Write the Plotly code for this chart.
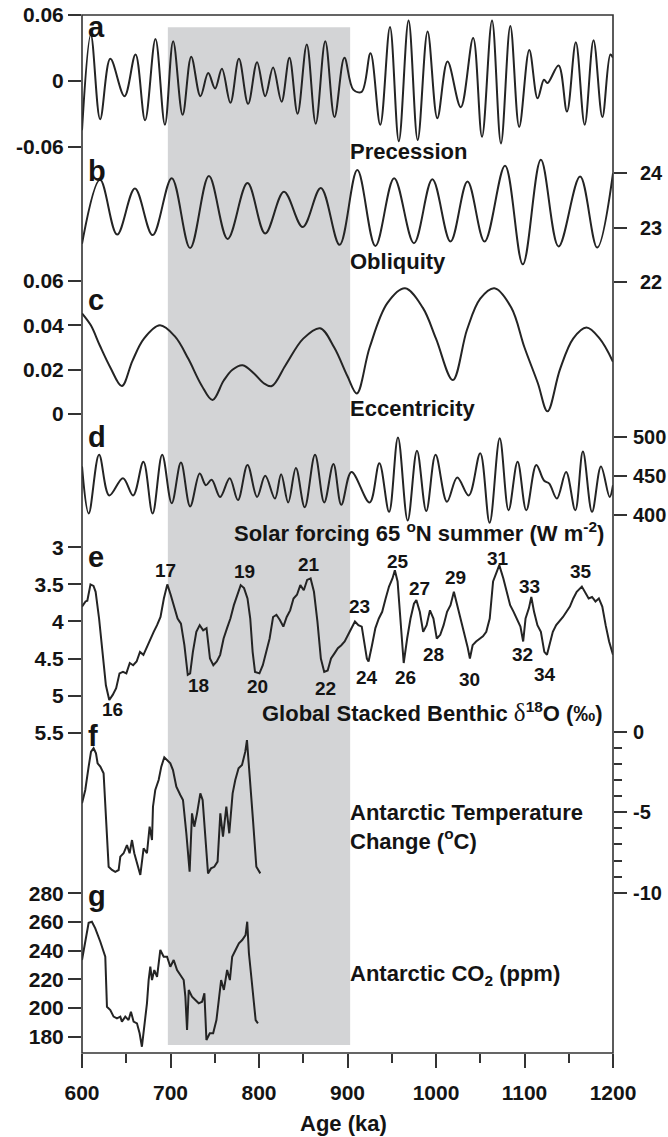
import plotly.graph_objects as go

# ---------------- series (age in ka) ----------------
prec_age = [600, 610, 620.5, 632, 648, 660.5, 671.3, 683, 693.7, 703, 713.7, 723.4, 733.8, 742.6,
            750.4, 758.1, 767.7, 777.3, 787.7, 797.8, 807, 815.9, 825.5, 834.4, 843.6, 854, 864.1,
            874.9, 885.3, 896.5, 906.5, 916, 926, 937, 948, 958, 969, 979.3, 990.5, 1001.5, 1013,
            1028, 1042, 1052, 1063.3, 1073.4, 1084, 1094, 1105.4, 1114.8, 1122, 1126, 1138.5,
            1148, 1158, 1168, 1178, 1188, 1197, 1200]
prec_val = [-0.045, 0.042, -0.035, 0.020, -0.014, 0.024, -0.036, 0.038, -0.040, 0.036, -0.031,
            0.022, -0.014, 0.007, -0.007, 0.011, -0.020, 0.020, -0.021, 0.017, -0.014, 0.012,
            -0.019, 0.021, -0.030, 0.033, -0.039, 0.036, -0.033, 0.021, -0.008, -0.010, 0.025,
            -0.040, 0.049, -0.055, 0.055, -0.054, 0.045, -0.034, 0.0175, -0.024, 0.039, -0.051,
            0.055, -0.057, 0.050, -0.042, 0.028, -0.016, 0.001, -0.002, 0.014, -0.028, 0.035,
            -0.040, 0.037, -0.033, 0.024, 0.021]

obl_age = [600, 620.4, 639.7, 659.8, 679.8, 701.4, 722.2, 743.4, 764.6, 787, 807, 828.2, 849.4,
           869.9, 891.1, 911.1, 931.5, 952.7, 975.1, 995.9, 1016.4, 1035.6, 1054.9, 1078,
           1098.1, 1118.5, 1138.5, 1162.8, 1182.1, 1200]
obl_val = [22.70, 23.88, 22.87, 23.72, 22.86, 23.91, 22.62, 23.95, 22.79, 23.82, 22.89, 23.66,
           23.01, 23.73, 22.68, 24.06, 22.66, 23.91, 22.71, 23.89, 22.74, 23.85, 22.74, 24.14,
           22.32, 24.25, 22.65, 23.94, 22.63, 24.00]

ecc_age = [600, 610, 620, 632, 645, 657, 670, 688, 705, 720, 735, 747.5, 760, 770, 781.5, 795,
           805, 814.5, 830, 850, 869, 885, 900, 910.5, 925, 945, 965, 985, 1000, 1019, 1035,
           1050, 1066, 1085, 1100, 1115, 1126, 1140, 1155, 1170, 1185, 1200]
ecc_val = [0.0454, 0.040, 0.031, 0.021, 0.0126, 0.024, 0.034, 0.040, 0.035, 0.025, 0.013, 0.0063,
           0.015, 0.020, 0.022, 0.018, 0.014, 0.0126, 0.022, 0.034, 0.0387, 0.030, 0.017, 0.0093,
           0.030, 0.050, 0.0567, 0.048, 0.034, 0.0153, 0.038, 0.052, 0.0567, 0.048, 0.030, 0.014,
           0.0012, 0.020, 0.034, 0.039, 0.034, 0.0236]

ins_age = [600, 607.6, 619.3, 630.8, 646.3, 657.8, 669.4, 679.8, 690.6, 701.4, 711.8, 722.2, 733,
           740, 746.5, 756.1, 766.9, 776.2, 787, 797.8, 807, 818, 825, 833, 841.7, 851.7, 863.3,
           873.7, 884.1, 893, 904.5, 925, 936, 947, 957, 968, 978.5, 989, 999.5, 1012.4, 1024,
           1037, 1050, 1060.6, 1072, 1082, 1092.2, 1102, 1113.3, 1122, 1128, 1136.6, 1147,
           1157.4, 1166, 1176.3, 1186.4, 1196.2, 1200]
ins_val = [462, 402, 477, 425, 447, 425, 468, 402, 477, 415, 467, 411, 453, 438, 445, 423, 447,
           419, 464, 423, 450, 421, 452, 416, 460, 410, 477, 416, 465, 413, 455, 416, 466, 404,
           499, 393, 482, 405, 477, 417, 448, 425, 479, 390, 498, 406, 468, 406, 464, 444, 440,
           421, 455, 406, 481, 404, 462, 423, 438]

d18o_age = [600, 604, 606, 609.6, 613, 615.4, 619.3, 623.1, 627, 630.8, 634.7, 638.6, 642.4,
            646.3, 650.1, 654, 657.8, 661.7, 665.5, 669.4, 673.3, 677.1, 681, 684.8, 688.7,
            692.5, 696.4, 700.2, 704.1, 708, 711.8, 715.7, 719.5, 722.2, 725.3, 729.2, 733,
            736.9, 740.7, 744.6, 748.4, 752.3, 756.1, 760, 763.9, 767.7, 771.6, 775.4, 779.3,
            783.1, 787, 790.1, 792.8, 795.5, 800.5, 804.3, 808.2, 812, 815.9, 819.7, 823.6,
            827.5, 831.3, 835.2, 839, 842.9, 846.7, 850.6, 854.4, 858.3, 862.1, 866, 869.9,
            873.7, 877.6, 881.4, 885.3, 889.1, 893, 896.8, 900.7, 904.6, 908.4, 912.3, 916.1,
            921.9, 923.8, 927.7, 931.5, 935.4, 939.2, 943.1, 946.9, 950.8, 953.5, 956.6, 960.5,
            963.5, 967.4, 971.2, 975.1, 977.8, 981.7, 985.5, 989.4, 993.2, 997.1, 1000.9,
            1004.8, 1008.6, 1012.5, 1016.4, 1020.2, 1024.1, 1027.9, 1031.8, 1035.6, 1038.3,
            1041.4, 1045.3, 1049.1, 1053, 1056.8, 1060.7, 1064.5, 1068.4, 1071.5, 1076.1, 1080,
            1083.8, 1087.7, 1091.5, 1095.4, 1098.5, 1101.2, 1105, 1107.7, 1110.8, 1114.6,
            1118.5, 1122.4, 1125.4, 1128.1, 1132, 1135.8, 1139.7, 1143.5, 1147.4, 1151.3,
            1155.1, 1159, 1164.8, 1168.6, 1172.5, 1176.3, 1180.2, 1184, 1187.9, 1191.7, 1195.6,
            1200]
d18o_val = [3.80, 3.73, 3.72, 3.50, 3.52, 3.60, 3.96, 4.41, 4.86, 5.06, 4.99, 4.90, 4.70, 4.68,
            4.70, 4.56, 4.59, 4.54, 4.41, 4.45, 4.34, 4.23, 4.14, 4.05, 3.94, 3.69, 3.50, 3.64,
            3.80, 3.96, 4.03, 4.32, 4.72, 4.70, 4.41, 4.14, 4.05, 4.12, 4.09, 4.50, 4.59, 4.54,
            4.45, 4.23, 4.09, 3.96, 3.78, 3.64, 3.51, 3.55, 3.69, 3.96, 4.41, 4.68, 4.70, 4.59,
            4.41, 4.23, 3.94, 3.91, 3.98, 4.07, 3.94, 3.85, 3.69, 3.64, 3.51, 3.58, 3.44, 3.42,
            3.60, 4.00, 4.50, 4.68, 4.66, 4.50, 4.43, 4.36, 4.32, 4.27, 4.18, 4.09, 4.00, 4.05,
            4.07, 4.50, 4.54, 4.32, 4.09, 3.96, 3.87, 3.69, 3.53, 3.42, 3.31, 3.46, 4.05, 4.56,
            4.23, 3.96, 3.76, 3.71, 3.87, 4.14, 4.05, 3.85, 3.96, 4.23, 4.18, 4.05, 3.87, 3.78,
            3.60, 3.78, 3.96, 4.14, 4.34, 4.50, 4.32, 4.27, 4.23, 4.20, 4.14, 3.96, 3.46, 3.33,
            3.24, 3.42, 3.60, 3.78, 3.87, 3.98, 4.07, 4.27, 3.96, 3.82, 3.67, 3.87, 4.05, 4.14,
            4.41, 4.45, 4.32, 4.14, 4.05, 4.00, 3.94, 3.87, 3.80, 3.69, 3.60, 3.53, 3.60, 3.69,
            3.67, 3.73, 3.69, 3.80, 4.05, 4.27, 4.45]

temp_age = [600, 603.7, 607.5, 610.2, 613.1, 615.8, 617.6, 620.7, 624.4, 627.5, 630.1, 633.9,
            637.6, 641.4, 643.3, 647, 650.8, 653.8, 656.5, 659.1, 662.1, 665.9, 669.6, 673.4,
            676.4, 679.1, 680.2, 682.8, 686.6, 689.6, 693, 696.7, 699.8, 702.8, 706.6, 711.1,
            714.1, 717.9, 721.6, 724.3, 726.9, 730, 733.7, 736.3, 739.3, 742.4, 745.8, 749.5,
            753.2, 756.3, 759.3, 763.1, 766.4, 770.2, 773.2, 776.9, 780.8, 784.5, 786.4, 789.4,
            793.2, 797, 801.5]
temp_val = [-4.45, -3.62, -2.17, -1.24, -1.03, -1.34, -1.96, -2.17, -2.58, -6.10, -8.39, -8.59,
            -8.70, -8.59, -7.76, -7.55, -7.04, -7.55, -6.73, -7.55, -8.17, -8.90, -7.24, -7.55,
            -5.90, -6.73, -4.66, -3.62, -3.00, -2.17, -1.59, -1.76, -1.96, -2.38, -3.42, -3.93,
            -4.24, -6.31, -8.70, -5.07, -5.90, -5.07, -3.83, -4.24, -6.73, -8.80, -8.49, -8.39,
            -8.07, -5.07, -6.52, -4.66, -6.31, -3.83, -3.00, -2.27, -2.07, -1.24, -0.52, -3.00,
            -5.48, -8.39, -8.80]

co2_age = [600, 603.7, 607.5, 611.2, 615, 620.7, 624.4, 626.3, 628.2, 632, 635.7, 639.5, 643.3,
           645.1, 648.9, 652.6, 655.3, 658.3, 662.1, 665.1, 667.7, 670.4, 673.4, 675.3, 677.2,
           679.1, 681.7, 684.8, 688.5, 692.3, 696.1, 699.8, 703.6, 707.4, 711.1, 714.9, 716.8,
           718.7, 720.6, 724.3, 728.1, 731.9, 735.7, 738.3, 740.6, 744.4, 748.2, 751.9, 754.6,
           757.2, 760.3, 764, 767.1, 769.7, 773.5, 777.3, 781, 784.8, 786.7, 788.6, 791.3,
           793.5, 796.2, 798.8]
co2_val = [233.5, 245.1, 259.5, 260.2, 255.6, 246.2, 239.3, 235.8, 200.9, 198.6, 194.0, 192.8,
           194.0, 190.5, 194.0, 191.6, 197.4, 190.5, 189.3, 182.4, 173.0, 187.0, 203.3, 219.5,
           228.8, 219.5, 226.5, 221.8, 240.5, 235.8, 235.8, 228.8, 233.5, 226.5, 223.0, 219.5,
           207.9, 184.7, 212.6, 207.9, 205.6, 203.3, 204.4, 210.3, 177.7, 182.4, 182.4, 191.6,
           205.6, 219.5, 212.6, 226.5, 219.5, 235.8, 240.5, 245.1, 247.4, 250.9, 260.2, 238.2,
           221.8, 207.9, 191.6, 189.3]

# Marine isotope stage numbers and where their labels sit (age, d18O)
mis_names = ["16", "17", "18", "19", "20", "21", "22", "23", "24", "25", "26", "27", "28", "29",
             "30", "31", "32", "33", "34", "35"]
mis_label_age = [634.7, 694.5, 731.1, 783.1, 797.8, 856.4, 874.9, 913.4, 921.9, 956.6, 965.1,
                 981.7, 997.1, 1022.1, 1037.5, 1070.3, 1098.1, 1106.2, 1123.1, 1164]
mis_label_d18o = [5.19, 3.31, 4.86, 3.33, 4.88, 3.23, 4.90, 3.80, 4.75, 3.19, 4.75, 3.56, 4.45,
                  3.41, 4.78, 3.15, 4.45, 3.53, 4.72, 3.33]

band = (697, 903)

# ---------------- page geometry ----------------
W, H = 668, 1137
L, R, T, B = 82, 55, 15, 84
PW, PH = W - L - R, H - T - B
FONT = "Liberation Sans, Arial, Helvetica, sans-serif"
INK = "#141414"
AXC = "#333333"
LINE = "#242424"


def fx(px):
    return (px - L) / PW


def fy(py):
    return 1 - (py - T) / PH


def span(v1, p1, v2, p2):
    """Range [bottom, top] putting value v1 at pixel row p1 and v2 at row p2."""
    s = (p2 - p1) / (v2 - v1)
    top = v1 + (T - p1) / s
    bot = v1 + (T + PH - p1) / s
    return [bot, top]


fig = go.Figure()
series = [
    (prec_age, prec_val, "y", "spline"),
    (obl_age, obl_val, "y2", "spline"),
    (ecc_age, ecc_val, "y3", "spline"),
    (ins_age, ins_val, "y4", "spline"),
    (d18o_age, d18o_val, "y5", "linear"),
    (temp_age, temp_val, "y6", "linear"),
    (co2_age, co2_val, "y7", "linear"),
]
for xs, ys, ax, shape in series:
    fig.add_trace(go.Scatter(x=xs, y=ys, yaxis=ax, mode="lines",
                             line=dict(color=LINE, width=2.0, shape=shape,
                                       smoothing=1.0 if shape == "spline" else None),
                             hoverinfo="skip"))

tickfont = dict(family=FONT, size=21, color=INK, weight="bold")
tickfont_r = dict(family=FONT, size=20, color=INK, weight="bold")


def yax(rng, vals, texts, side="left", minor_vals=None, standoff=None):
    d = dict(range=rng, domain=[0, 1], anchor="x", side=side, tickmode="array",
             tickvals=vals, ticktext=texts, ticks="outside", ticklen=13, tickwidth=1.6,
             tickcolor=AXC, showgrid=False, zeroline=False, showline=False,
             tickfont=tickfont if side == "left" else tickfont_r, fixedrange=True,
             automargin=False)
    if standoff is not None:
        d["ticklabelstandoff"] = standoff
    if minor_vals:
        d["minor"] = dict(tickmode="array", tickvals=minor_vals, ticks="outside", ticklen=8,
                          tickwidth=1.6, tickcolor=AXC, showgrid=False)
    return d


layout = dict(
    width=W, height=H, margin=dict(l=L, r=R, t=T, b=B, pad=0, autoexpand=False),
    paper_bgcolor="white", plot_bgcolor="white", showlegend=False,
    font=dict(family=FONT, color=INK),
    xaxis=dict(range=[600, 1200], tickmode="array", tickvals=[600, 700, 800, 900, 1000, 1100, 1200],
               ticks="outside", ticklen=14, tickwidth=1.6, tickcolor=AXC, showgrid=False,
               zeroline=False, showline=False, tickfont=tickfont, fixedrange=True,
               ticklabelstandoff=7, automargin=False,
               minor=dict(tickmode="array", tickvals=[650, 750, 850, 950, 1050, 1150],
                          ticks="outside", ticklen=9, tickwidth=1.6, tickcolor=AXC, showgrid=False)),
    yaxis=yax(span(0.06, 14.9, -0.06, 146.7), [-0.06, 0, 0.06], ["-0.06", "0", "0.06"]),
    yaxis2=yax(span(24, 173.3, 22, 281.7), [22, 23, 24], ["22", "23", "24"], side="right",
               standoff=9),
    yaxis3=yax(span(0.06, 281, 0, 414), [0, 0.02, 0.04, 0.06], ["0", "0.02", "0.04", "0.06"]),
    yaxis4=yax(span(500, 436.7, 400, 515), [400, 450, 500], ["400", "450", "500"], side="right",
               standoff=2),
    yaxis5=yax(span(3, 547.3, 5.5, 732.7), [3, 3.5, 4, 4.5, 5, 5.5],
               ["3", "3.5", "4", "4.5", "5", "5.5"]),
    yaxis6=yax(span(0, 731.7, -10, 892.7), [0, -5, -10], ["0", "-5", "-10"], side="right",
               minor_vals=[-1, -2, -3, -4, -6, -7, -8, -9], standoff=2),
    yaxis7=yax(span(280, 893.3, 180, 1036.7), [180, 200, 220, 240, 260, 280],
               ["180", "200", "220", "240", "260", "280"]),
)
for k in ["yaxis2", "yaxis3", "yaxis4", "yaxis5", "yaxis6", "yaxis7"]:
    layout[k]["overlaying"] = "y"
fig.update_layout(**layout)

# shaded interval and frame
fig.add_shape(type="rect", xref="x", yref="paper", x0=band[0], x1=band[1],
              y0=fy(1045), y1=fy(27.3), fillcolor="#d3d4d6", line_width=0, layer="below")
fig.add_shape(type="rect", xref="paper", yref="paper", x0=0, x1=1, y0=0, y1=1,
              line=dict(color=AXC, width=1.6), layer="above")

# panel letters
for letter, py in zip("abcdefg", [27.3, 170.6, 300, 436.6, 556.6, 735.6, 895.6]):
    fig.add_annotation(text=letter, xref="paper", yref="paper", x=fx(86), y=fy(py),
                       xanchor="left", yanchor="middle", showarrow=False,
                       font=dict(family=FONT, size=29, color=INK, weight="bold"))

# series captions
lab = dict(family=FONT, size=22, color=INK, weight="bold")
captions = [
    ("Precession", 348, 151.7),
    ("Obliquity", 348, 261.7),
    ("Eccentricity", 348, 408),
    ("Solar forcing 65 <sup>o</sup>N summer (W m<sup>-2</sup>)", 232, 531.7),
    ("Global Stacked Benthic <span style='font-family:Liberation Serif;font-weight:normal;"
     "font-size:25px'>δ</span><sup>18</sup>O (‰)", 260, 712.3),
    ("Antarctic Temperature<br>Change (<sup>o</sup>C)", 348, 826.7),
    ("Antarctic CO<sub>2</sub> (ppm)", 348, 975),
]
for text, px, py in captions:
    fig.add_annotation(text=text, xref="paper", yref="paper", x=fx(px), y=fy(py),
                       xanchor="left", yanchor="middle", align="left", showarrow=False,
                       font=lab)

fig.add_annotation(text="Age (ka)", xref="paper", yref="paper", x=fx(343), y=fy(1123.3),
                   xanchor="center", yanchor="middle", showarrow=False, font=lab)

# stage numbers on the benthic stack
for name, a, v in zip(mis_names, mis_label_age, mis_label_d18o):
    fig.add_annotation(text=name, xref="x", yref="y5", x=a, y=v, xanchor="center",
                       yanchor="middle", showarrow=False,
                       font=dict(family=FONT, size=19, color=INK, weight="bold"))

fig.write_html("out.html")
